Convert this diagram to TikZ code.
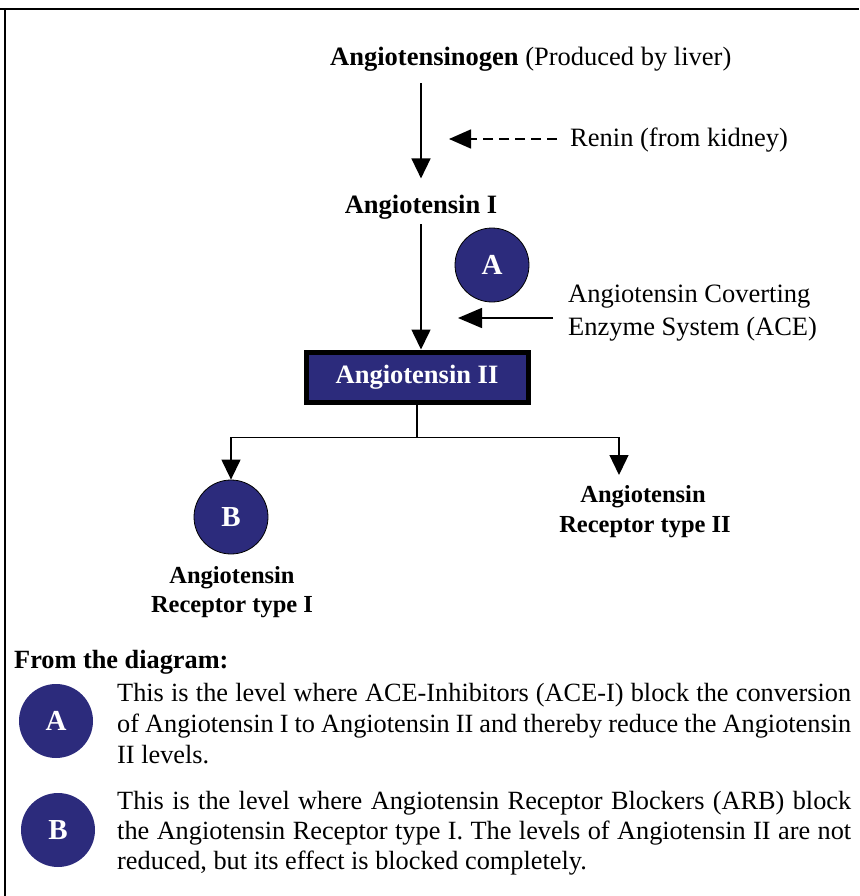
\documentclass[tikz,border=0pt]{standalone}
\usepackage{fontspec}
\setmainfont{Liberation Serif}
\usetikzlibrary{arrows.meta,calc}
\definecolor{navy}{RGB}{44,43,124}
\tikzset{
  arr/.style={-{Triangle[length=20pt,width=19pt]}, line width=1.6pt},
  lbl/.style={inner sep=0pt, anchor=base, font=\fontsize{26.5}{31}\selectfont\bfseries},
  rlbl/.style={inner sep=0pt, anchor=base, font=\fontsize{24.5}{30}\selectfont\bfseries},
  plain/.style={inner sep=0pt, anchor=base west, font=\fontsize{26.5}{31}\selectfont},
  leg/.style={inner sep=0pt, anchor=base west, font=\fontsize{26.3}{31}\selectfont},
  bub/.style={circle, fill=navy, minimum size=74pt, inner sep=0pt, text=white, font=\fontsize{29}{30}\selectfont\bfseries},
}
\begin{document}
\begin{tikzpicture}[x=1pt,y=-1pt]
\useasboundingbox (0,0) rectangle (859,896);
% frame
\draw[line width=2.5pt] (0,9) -- (859,9);
\draw[line width=2pt] (5,9) -- (5,896);

% top chain
\node[plain] (title) at (330,66) {\textbf{Angiotensinogen} (Produced by liver)};
\node[lbl] (ang1) at (421,213) {Angiotensin I};
\draw[arr, shorten <=11pt, shorten >=16pt] (title.south -| ang1.north) -- (ang1.north);

\node[plain] (renin) at (570,147) {Renin (from kidney)};
\coordinate (reninTip) at (449,139);
\draw[-{Triangle[length=22pt,width=19pt]}, line width=1.6pt, dash pattern=on 10pt off 6pt, shorten <=13pt] (renin.west |- reninTip) -- (reninTip);

\node[bub, draw=black, line width=0.8pt] (circA) at (492,265) {A};
\node[plain] (ace1) at (568,302) {Angiotensin Coverting};
\node[plain] (ace2) at (568,335) {Enzyme System (ACE)};
\coordinate (aceTail) at (553,318);
\coordinate (aceTip) at (458,318);
\draw[-{Triangle[length=24pt,width=20pt]}, line width=1.6pt] (aceTail) -- (aceTip);

\node[rectangle, draw=black, line width=5pt, fill=navy, minimum width=222pt, minimum height=50pt, inner sep=0pt, text=white, font=\fontsize{26.5}{31}\selectfont\bfseries] (ang2) at (417,377) {Angiotensin II};
\draw[arr, shorten <=5pt] (ang1.south) -- (ang1.south |- ang2.north);

% branch
\coordinate (split) at ($(ang2.south)+(0,33)$);
\draw[line width=1.3pt] (ang2.south) -- (split);
\node[bub, draw=black, line width=0.8pt] (circB) at (231,517) {B};
\coordinate (rtTip) at (619,475);
\draw[arr, line width=1.3pt] (split) -| (circB.north);
\draw[arr, line width=1.3pt] (split) -| (rtTip);

\node[rlbl] (b1) at (232,583) {Angiotensin};
\node[rlbl] (b2) at (232,612) {Receptor type I};
\node[rlbl] (r1) at (643,502) {Angiotensin};
\node[rlbl] (r2) at (645,532) {Receptor type II};

% legend
\node[inner sep=0pt, anchor=base west, font=\fontsize{26.3}{31}\selectfont\bfseries] (from) at (14,668) {From the diagram:};
\node[bub] (legA) at (56,721) {A};
\node[bub] (legB) at (58,830) {B};
\node[leg] (tA1) at (117,701) {\makebox[734pt][s]{This is the level where ACE-Inhibitors (ACE-I) block the conversion}};
\node[leg] (tA2) at (117,732) {\makebox[734pt][s]{of Angiotensin I to Angiotensin II and thereby reduce the Angiotensin}};
\node[leg] (tA3) at (117,763) {II levels.};
\node[leg] (tB1) at (117,809) {\makebox[734pt][s]{This is the level where Angiotensin Receptor Blockers (ARB) block}};
\node[leg] (tB2) at (117,839) {\makebox[734pt][s]{the Angiotensin Receptor type I. The levels of Angiotensin II are not}};
\node[leg] (tB3) at (117,869) {reduced, but its effect is blocked completely.};
\end{tikzpicture}
\end{document}
